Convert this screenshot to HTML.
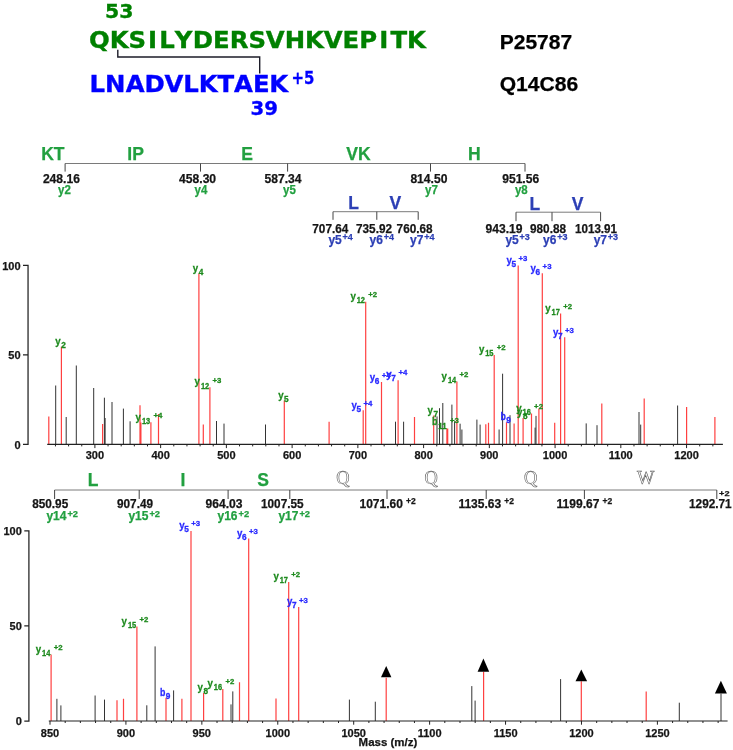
<!DOCTYPE html>
<html><head><meta charset="utf-8"><title>Cross-linked peptide spectrum</title>
<style>
html,body{margin:0;padding:0;background:#fff}
svg{display:block}
text{white-space:pre}
.LS{font-family:"Liberation Sans",sans-serif;font-weight:bold}
.DV{font-family:"DejaVu Sans","Liberation Sans",sans-serif;font-weight:bold}
.SF{font-family:"Liberation Serif",serif;font-weight:normal}
</style></head>
<body>
<svg width="733" height="750" viewBox="0 0 733 750">
<rect width="733" height="750" fill="#fff"/>
<text class="DV" x="105.0" y="18.3" font-size="19" fill="#008000" textLength="28.5" lengthAdjust="spacingAndGlyphs" stroke="#008000" stroke-width="0.3">53</text>
<text class="DV" transform="translate(89.0 0) scale(1.034 1)" x="10.0 29.2 46.6 61.4 75.4 91.6 110.1 128.0 145.2 162.8 180.2 199.1 218.1 236.2 253.3 270.0 285.1 299.6 316.7" y="48.0" font-size="23.6" fill="#008000" stroke="#008000" stroke-width="0.35" text-anchor="middle">QKSILYDERSVHKVEPITK</text>
<text class="DV" transform="translate(89.6 0) scale(1.034 1)" x="7.5 24.9 44.0 62.9 81.6 98.1 114.6 131.7 148.8 166.0 183.0" y="92.4" font-size="23.6" fill="#0000ff" stroke="#0000ff" stroke-width="0.35" text-anchor="middle">LNADVLKTAEK</text>
<text class="DV" x="291.5" y="84.0" font-size="17" fill="#0000ff" textLength="23.0" lengthAdjust="spacingAndGlyphs" stroke="#0000ff" stroke-width="0.3">+5</text>
<text class="DV" x="250.5" y="115.0" font-size="19" fill="#0000ff" textLength="27.5" lengthAdjust="spacingAndGlyphs" stroke="#0000ff" stroke-width="0.3">39</text>
<path d="M117.8 49.8V57H259.7V73.5" fill="none" stroke="#1c1c28" stroke-width="1.4"/>
<text class="LS" x="499.7" y="48.7" font-size="21" fill="#000" textLength="72.5" lengthAdjust="spacingAndGlyphs" stroke="#000" stroke-width="0.25">P25787</text>
<text class="LS" x="499.7" y="90.7" font-size="21" fill="#000" textLength="78.6" lengthAdjust="spacingAndGlyphs" stroke="#000" stroke-width="0.25">Q14C86</text>
<line x1="65.10" y1="163.50" x2="525.00" y2="163.50" stroke="#7a7a7a" stroke-width="1.0"/>
<line x1="65.10" y1="163.50" x2="65.10" y2="171.60" stroke="#444" stroke-width="1.0"/>
<line x1="200.50" y1="163.50" x2="200.50" y2="171.60" stroke="#444" stroke-width="1.0"/>
<line x1="287.60" y1="163.50" x2="287.60" y2="171.60" stroke="#444" stroke-width="1.0"/>
<line x1="430.50" y1="163.50" x2="430.50" y2="171.60" stroke="#444" stroke-width="1.0"/>
<line x1="525.00" y1="163.50" x2="525.00" y2="171.60" stroke="#444" stroke-width="1.0"/>
<text class="LS" x="52.9" y="160.3" font-size="18.7" fill="#22a040" text-anchor="middle" textLength="23.4" lengthAdjust="spacingAndGlyphs" stroke="#22a040" stroke-width="0.25">KT</text>
<text class="LS" x="135.6" y="160.3" font-size="18.7" fill="#22a040" text-anchor="middle" textLength="16.6" lengthAdjust="spacingAndGlyphs" stroke="#22a040" stroke-width="0.25">IP</text>
<text class="LS" x="247.2" y="160.3" font-size="18.7" fill="#22a040" text-anchor="middle" textLength="11.7" lengthAdjust="spacingAndGlyphs" stroke="#22a040" stroke-width="0.25">E</text>
<text class="LS" x="358.5" y="160.3" font-size="18.7" fill="#22a040" text-anchor="middle" textLength="24.4" lengthAdjust="spacingAndGlyphs" stroke="#22a040" stroke-width="0.25">VK</text>
<text class="LS" x="474.3" y="160.3" font-size="18.7" fill="#22a040" text-anchor="middle" textLength="12.7" lengthAdjust="spacingAndGlyphs" stroke="#22a040" stroke-width="0.25">H</text>
<text class="LS" x="61.4" y="183.0" font-size="12" fill="#151515" text-anchor="middle" textLength="37.0" lengthAdjust="spacingAndGlyphs" stroke="#151515" stroke-width="0.25">248.16</text>
<text class="LS" x="197.6" y="183.0" font-size="12" fill="#151515" text-anchor="middle" textLength="37.0" lengthAdjust="spacingAndGlyphs" stroke="#151515" stroke-width="0.25">458.30</text>
<text class="LS" x="283.0" y="183.0" font-size="12" fill="#151515" text-anchor="middle" textLength="37.0" lengthAdjust="spacingAndGlyphs" stroke="#151515" stroke-width="0.25">587.34</text>
<text class="LS" x="428.9" y="183.0" font-size="12" fill="#151515" text-anchor="middle" textLength="37.0" lengthAdjust="spacingAndGlyphs" stroke="#151515" stroke-width="0.25">814.50</text>
<text class="LS" x="520.7" y="183.0" font-size="12" fill="#151515" text-anchor="middle" textLength="37.0" lengthAdjust="spacingAndGlyphs" stroke="#151515" stroke-width="0.25">951.56</text>
<text class="LS" x="64.5" y="194.2" font-size="12.3" fill="#22a040" text-anchor="middle" textLength="12.8" lengthAdjust="spacingAndGlyphs" stroke="#22a040" stroke-width="0.25">y2</text>
<text class="LS" x="201.0" y="194.2" font-size="12.3" fill="#22a040" text-anchor="middle" textLength="12.8" lengthAdjust="spacingAndGlyphs" stroke="#22a040" stroke-width="0.25">y4</text>
<text class="LS" x="289.4" y="194.2" font-size="12.3" fill="#22a040" text-anchor="middle" textLength="12.8" lengthAdjust="spacingAndGlyphs" stroke="#22a040" stroke-width="0.25">y5</text>
<text class="LS" x="431.4" y="194.2" font-size="12.3" fill="#22a040" text-anchor="middle" textLength="12.8" lengthAdjust="spacingAndGlyphs" stroke="#22a040" stroke-width="0.25">y7</text>
<text class="LS" x="521.3" y="194.2" font-size="12.3" fill="#22a040" text-anchor="middle" textLength="12.8" lengthAdjust="spacingAndGlyphs" stroke="#22a040" stroke-width="0.25">y8</text>
<line x1="333.00" y1="211.70" x2="418.20" y2="211.70" stroke="#7a7a7a" stroke-width="1.0"/>
<line x1="333.00" y1="211.70" x2="333.00" y2="219.80" stroke="#444" stroke-width="1.0"/>
<line x1="376.80" y1="211.70" x2="376.80" y2="219.80" stroke="#444" stroke-width="1.0"/>
<line x1="418.20" y1="211.70" x2="418.20" y2="219.80" stroke="#444" stroke-width="1.0"/>
<text class="LS" x="353.5" y="209.4" font-size="18.7" fill="#2c3fb5" text-anchor="middle" textLength="10.7" lengthAdjust="spacingAndGlyphs" stroke="#2c3fb5" stroke-width="0.25">L</text>
<text class="LS" x="395.4" y="209.4" font-size="18.7" fill="#2c3fb5" text-anchor="middle" textLength="11.7" lengthAdjust="spacingAndGlyphs" stroke="#2c3fb5" stroke-width="0.25">V</text>
<text class="LS" x="330.3" y="232.5" font-size="12" fill="#151515" text-anchor="middle" textLength="36.0" lengthAdjust="spacingAndGlyphs" stroke="#151515" stroke-width="0.25">707.64</text>
<text class="LS" x="374.0" y="232.5" font-size="12" fill="#151515" text-anchor="middle" textLength="36.0" lengthAdjust="spacingAndGlyphs" stroke="#151515" stroke-width="0.25">735.92</text>
<text class="LS" x="414.6" y="232.5" font-size="12" fill="#151515" text-anchor="middle" textLength="36.0" lengthAdjust="spacingAndGlyphs" stroke="#151515" stroke-width="0.25">760.68</text>
<text class="LS" x="328.4" y="244.0" font-size="12" fill="#2c3fb5" stroke="#2c3fb5" stroke-width="0.25">y5<tspan font-size="9" dx="0.8" dy="-3.8">+4</tspan></text>
<text class="LS" x="369.6" y="244.0" font-size="12" fill="#2c3fb5" stroke="#2c3fb5" stroke-width="0.25">y6<tspan font-size="9" dx="0.8" dy="-3.8">+4</tspan></text>
<text class="LS" x="410.0" y="244.0" font-size="12" fill="#2c3fb5" stroke="#2c3fb5" stroke-width="0.25">y7<tspan font-size="9" dx="0.8" dy="-3.8">+4</tspan></text>
<line x1="516.00" y1="212.20" x2="600.60" y2="212.20" stroke="#7a7a7a" stroke-width="1.0"/>
<line x1="516.00" y1="212.20" x2="516.00" y2="221.20" stroke="#444" stroke-width="1.0"/>
<line x1="552.00" y1="212.20" x2="552.00" y2="221.20" stroke="#444" stroke-width="1.0"/>
<line x1="600.60" y1="212.20" x2="600.60" y2="221.20" stroke="#444" stroke-width="1.0"/>
<text class="LS" x="534.8" y="210.0" font-size="18.7" fill="#2c3fb5" text-anchor="middle" textLength="10.7" lengthAdjust="spacingAndGlyphs" stroke="#2c3fb5" stroke-width="0.25">L</text>
<text class="LS" x="577.5" y="210.0" font-size="18.7" fill="#2c3fb5" text-anchor="middle" textLength="11.7" lengthAdjust="spacingAndGlyphs" stroke="#2c3fb5" stroke-width="0.25">V</text>
<text class="LS" x="504.0" y="232.5" font-size="12" fill="#151515" text-anchor="middle" textLength="37.0" lengthAdjust="spacingAndGlyphs" stroke="#151515" stroke-width="0.25">943.19</text>
<text class="LS" x="548.0" y="232.5" font-size="12" fill="#151515" text-anchor="middle" textLength="36.0" lengthAdjust="spacingAndGlyphs" stroke="#151515" stroke-width="0.25">980.88</text>
<text class="LS" x="596.0" y="232.5" font-size="12" fill="#151515" text-anchor="middle" textLength="42.0" lengthAdjust="spacingAndGlyphs" stroke="#151515" stroke-width="0.25">1013.91</text>
<text class="LS" x="505.4" y="244.0" font-size="12" fill="#2c3fb5" stroke="#2c3fb5" stroke-width="0.25">y5<tspan font-size="9" dx="0.8" dy="-3.8">+3</tspan></text>
<text class="LS" x="543.0" y="244.0" font-size="12" fill="#2c3fb5" stroke="#2c3fb5" stroke-width="0.25">y6<tspan font-size="9" dx="0.8" dy="-3.8">+3</tspan></text>
<text class="LS" x="593.7" y="244.0" font-size="12" fill="#2c3fb5" stroke="#2c3fb5" stroke-width="0.25">y7<tspan font-size="9" dx="0.8" dy="-3.8">+3</tspan></text>
<path d="M55.70 444.4V385.5M66.20 444.4V417.0M76.30 444.4V365.5M93.70 444.4V388.0M104.40 444.4V397.7M105.10 444.4V418.0M112.00 444.4V402.0M123.40 444.4V408.6M130.10 444.4V421.3M216.50 444.4V421.0M224.00 444.4V423.6M265.50 444.4V424.5M395.50 444.4V421.7M403.60 444.4V421.7M437.00 444.4V416.4M439.50 444.4V408.2M442.80 444.4V403.0M451.90 444.4V404.6M454.60 444.4V421.3M460.10 444.4V423.7M461.90 444.4V429.5M476.90 444.4V419.6M480.10 444.4V424.6M499.10 444.4V429.5M502.60 444.4V373.7M510.00 444.4V415.2M535.10 444.4V427.6M536.00 444.4V415.9M586.20 444.4V423.4M597.00 444.4V425.2M639.00 444.4V412.0M640.70 444.4V424.6M677.60 444.4V405.5" stroke="#333333" stroke-width="1.0" fill="none"/>
<path d="M48.80 444.4V416.4M61.40 444.4V346.7M102.60 444.4V424.0M140.00 444.4V405.3M140.90 444.4V422.4M150.90 444.4V422.2M158.50 444.4V414.1M198.90 444.4V273.5M203.30 444.4V424.5M209.90 444.4V387.2M284.30 444.4V400.4M329.10 444.4V421.7M363.20 444.4V410.3M365.70 444.4V301.7M381.50 444.4V382.0M398.10 444.4V380.3M414.50 444.4V416.9M433.70 444.4V415.4M446.90 444.4V428.4M447.70 444.4V428.4M456.90 444.4V381.4M485.80 444.4V424.2M488.50 444.4V422.8M494.20 444.4V354.9M506.50 444.4V422.3M514.10 444.4V423.5M518.20 444.4V265.6M523.10 444.4V417.9M531.50 444.4V413.4M538.90 444.4V408.4M542.30 444.4V273.3M554.70 444.4V422.8M560.60 444.4V313.5M564.70 444.4V337.3M601.80 444.4V403.5M644.20 444.4V398.6M686.60 444.4V407.0M714.90 444.4V417.0" stroke="#ff4040" stroke-width="1.2" fill="none"/>
<path d="M23 265.3H28.05V444.4H23M23 354.8H28.05" fill="none" stroke="#222" stroke-width="1.25"/>
<line x1="47.20" y1="444.40" x2="722.90" y2="444.40" stroke="#222" stroke-width="1.1"/>
<path d="M55.46 444.4v2.0M68.60 444.4v2.0M81.75 444.4v2.0M94.90 444.4v3.7M108.05 444.4v2.0M121.20 444.4v2.0M134.34 444.4v2.0M147.49 444.4v2.0M160.64 444.4v3.7M173.79 444.4v2.0M186.94 444.4v2.0M200.08 444.4v2.0M213.23 444.4v2.0M226.38 444.4v3.7M239.53 444.4v2.0M252.68 444.4v2.0M265.82 444.4v2.0M278.97 444.4v2.0M292.12 444.4v3.7M305.27 444.4v2.0M318.42 444.4v2.0M331.56 444.4v2.0M344.71 444.4v2.0M357.86 444.4v3.7M371.01 444.4v2.0M384.16 444.4v2.0M397.30 444.4v2.0M410.45 444.4v2.0M423.60 444.4v3.7M436.75 444.4v2.0M449.90 444.4v2.0M463.04 444.4v2.0M476.19 444.4v2.0M489.34 444.4v3.7M502.49 444.4v2.0M515.64 444.4v2.0M528.78 444.4v2.0M541.93 444.4v2.0M555.08 444.4v3.7M568.23 444.4v2.0M581.38 444.4v2.0M594.52 444.4v2.0M607.67 444.4v2.0M620.82 444.4v3.7M633.97 444.4v2.0M647.12 444.4v2.0M660.26 444.4v2.0M673.41 444.4v2.0M686.56 444.4v3.7M699.71 444.4v2.0M712.86 444.4v2.0" stroke="#222" stroke-width="1" fill="none"/>
<text class="LS" x="94.9" y="459.0" font-size="11" fill="#151515" text-anchor="middle" stroke="#151515" stroke-width="0.25">300</text>
<text class="LS" x="160.6" y="459.0" font-size="11" fill="#151515" text-anchor="middle" stroke="#151515" stroke-width="0.25">400</text>
<text class="LS" x="226.4" y="459.0" font-size="11" fill="#151515" text-anchor="middle" stroke="#151515" stroke-width="0.25">500</text>
<text class="LS" x="292.1" y="459.0" font-size="11" fill="#151515" text-anchor="middle" stroke="#151515" stroke-width="0.25">600</text>
<text class="LS" x="357.9" y="459.0" font-size="11" fill="#151515" text-anchor="middle" stroke="#151515" stroke-width="0.25">700</text>
<text class="LS" x="423.6" y="459.0" font-size="11" fill="#151515" text-anchor="middle" stroke="#151515" stroke-width="0.25">800</text>
<text class="LS" x="489.3" y="459.0" font-size="11" fill="#151515" text-anchor="middle" stroke="#151515" stroke-width="0.25">900</text>
<text class="LS" x="555.1" y="459.0" font-size="11" fill="#151515" text-anchor="middle" stroke="#151515" stroke-width="0.25">1000</text>
<text class="LS" x="620.8" y="459.0" font-size="11" fill="#151515" text-anchor="middle" stroke="#151515" stroke-width="0.25">1100</text>
<text class="LS" x="686.6" y="459.0" font-size="11" fill="#151515" text-anchor="middle" stroke="#151515" stroke-width="0.25">1200</text>
<text class="LS" x="20.6" y="269.6" font-size="11" fill="#151515" text-anchor="end" stroke="#151515" stroke-width="0.25">100</text>
<text class="LS" x="20.6" y="359.1" font-size="11" fill="#151515" text-anchor="end" stroke="#151515" stroke-width="0.25">50</text>
<text class="LS" x="20.6" y="448.7" font-size="11" fill="#151515" text-anchor="end" stroke="#151515" stroke-width="0.25">0</text>
<text class="LS" x="55.3" y="344.9" font-size="11.5" fill="#1e8a1e" textLength="5.4" lengthAdjust="spacingAndGlyphs" stroke="#1e8a1e" stroke-width="0.3">y</text>
<text class="LS" x="61.2" y="348.0" font-size="8.3" fill="#1e8a1e" textLength="4.6" lengthAdjust="spacingAndGlyphs" stroke="#1e8a1e" stroke-width="0.3">2</text>
<text class="LS" x="192.8" y="271.7" font-size="11.5" fill="#1e8a1e" textLength="5.4" lengthAdjust="spacingAndGlyphs" stroke="#1e8a1e" stroke-width="0.3">y</text>
<text class="LS" x="198.7" y="274.8" font-size="8.3" fill="#1e8a1e" textLength="4.6" lengthAdjust="spacingAndGlyphs" stroke="#1e8a1e" stroke-width="0.3">4</text>
<text class="LS" x="194.6" y="385.4" font-size="11.5" fill="#1e8a1e" textLength="5.4" lengthAdjust="spacingAndGlyphs" stroke="#1e8a1e" stroke-width="0.3">y</text>
<text class="LS" x="200.9" y="388.5" font-size="8.3" fill="#1e8a1e" textLength="8.3" lengthAdjust="spacingAndGlyphs" stroke="#1e8a1e" stroke-width="0.3">12</text>
<text class="LS" x="212.5" y="382.6" font-size="8" fill="#1e8a1e" textLength="8.9" lengthAdjust="spacingAndGlyphs" stroke="#1e8a1e" stroke-width="0.3">+3</text>
<text class="LS" x="135.6" y="420.8" font-size="11.5" fill="#1e8a1e" textLength="5.4" lengthAdjust="spacingAndGlyphs" stroke="#1e8a1e" stroke-width="0.3">y</text>
<text class="LS" x="141.9" y="423.9" font-size="8.3" fill="#1e8a1e" textLength="8.3" lengthAdjust="spacingAndGlyphs" stroke="#1e8a1e" stroke-width="0.3">13</text>
<text class="LS" x="153.5" y="418.0" font-size="8" fill="#1e8a1e" textLength="8.9" lengthAdjust="spacingAndGlyphs" stroke="#1e8a1e" stroke-width="0.3">+4</text>
<text class="LS" x="278.2" y="398.6" font-size="11.5" fill="#1e8a1e" textLength="5.4" lengthAdjust="spacingAndGlyphs" stroke="#1e8a1e" stroke-width="0.3">y</text>
<text class="LS" x="284.1" y="401.7" font-size="8.3" fill="#1e8a1e" textLength="4.6" lengthAdjust="spacingAndGlyphs" stroke="#1e8a1e" stroke-width="0.3">5</text>
<text class="LS" x="350.4" y="299.9" font-size="11.5" fill="#1e8a1e" textLength="5.4" lengthAdjust="spacingAndGlyphs" stroke="#1e8a1e" stroke-width="0.3">y</text>
<text class="LS" x="356.7" y="303.0" font-size="8.3" fill="#1e8a1e" textLength="8.3" lengthAdjust="spacingAndGlyphs" stroke="#1e8a1e" stroke-width="0.3">12</text>
<text class="LS" x="368.3" y="297.1" font-size="8" fill="#1e8a1e" textLength="8.9" lengthAdjust="spacingAndGlyphs" stroke="#1e8a1e" stroke-width="0.3">+2</text>
<text class="LS" x="351.4" y="408.5" font-size="11.5" fill="#2a2aff" textLength="5.4" lengthAdjust="spacingAndGlyphs" stroke="#2a2aff" stroke-width="0.3">y</text>
<text class="LS" x="356.4" y="411.6" font-size="8.3" fill="#2a2aff" textLength="4.6" lengthAdjust="spacingAndGlyphs" stroke="#2a2aff" stroke-width="0.3">5</text>
<text class="LS" x="363.5" y="405.7" font-size="8" fill="#2a2aff" textLength="8.9" lengthAdjust="spacingAndGlyphs" stroke="#2a2aff" stroke-width="0.3">+4</text>
<text class="LS" x="369.7" y="380.7" font-size="11.5" fill="#2a2aff" textLength="5.4" lengthAdjust="spacingAndGlyphs" stroke="#2a2aff" stroke-width="0.3">y</text>
<text class="LS" x="374.7" y="383.8" font-size="8.3" fill="#2a2aff" textLength="4.6" lengthAdjust="spacingAndGlyphs" stroke="#2a2aff" stroke-width="0.3">6</text>
<text class="LS" x="381.8" y="377.9" font-size="8" fill="#2a2aff" textLength="8.9" lengthAdjust="spacingAndGlyphs" stroke="#2a2aff" stroke-width="0.3">+4</text>
<text class="LS" x="386.3" y="377.6" font-size="11.5" fill="#2a2aff" textLength="5.4" lengthAdjust="spacingAndGlyphs" stroke="#2a2aff" stroke-width="0.3">y</text>
<text class="LS" x="391.3" y="380.7" font-size="8.3" fill="#2a2aff" textLength="4.6" lengthAdjust="spacingAndGlyphs" stroke="#2a2aff" stroke-width="0.3">7</text>
<text class="LS" x="398.4" y="374.8" font-size="8" fill="#2a2aff" textLength="8.9" lengthAdjust="spacingAndGlyphs" stroke="#2a2aff" stroke-width="0.3">+4</text>
<text class="LS" x="427.6" y="413.6" font-size="11.5" fill="#1e8a1e" textLength="5.4" lengthAdjust="spacingAndGlyphs" stroke="#1e8a1e" stroke-width="0.3">y</text>
<text class="LS" x="433.5" y="416.7" font-size="8.3" fill="#1e8a1e" textLength="4.6" lengthAdjust="spacingAndGlyphs" stroke="#1e8a1e" stroke-width="0.3">7</text>
<text class="LS" x="432.0" y="425.4" font-size="11.5" fill="#1e8a1e" textLength="5.4" lengthAdjust="spacingAndGlyphs" stroke="#1e8a1e" stroke-width="0.3">b</text>
<text class="LS" x="438.3" y="428.5" font-size="8.3" fill="#1e8a1e" textLength="8.3" lengthAdjust="spacingAndGlyphs" stroke="#1e8a1e" stroke-width="0.3">11</text>
<text class="LS" x="449.9" y="422.6" font-size="8" fill="#1e8a1e" textLength="8.9" lengthAdjust="spacingAndGlyphs" stroke="#1e8a1e" stroke-width="0.3">+3</text>
<text class="LS" x="441.6" y="379.6" font-size="11.5" fill="#1e8a1e" textLength="5.4" lengthAdjust="spacingAndGlyphs" stroke="#1e8a1e" stroke-width="0.3">y</text>
<text class="LS" x="447.9" y="382.7" font-size="8.3" fill="#1e8a1e" textLength="8.3" lengthAdjust="spacingAndGlyphs" stroke="#1e8a1e" stroke-width="0.3">14</text>
<text class="LS" x="459.5" y="376.8" font-size="8" fill="#1e8a1e" textLength="8.9" lengthAdjust="spacingAndGlyphs" stroke="#1e8a1e" stroke-width="0.3">+2</text>
<text class="LS" x="478.9" y="353.1" font-size="11.5" fill="#1e8a1e" textLength="5.4" lengthAdjust="spacingAndGlyphs" stroke="#1e8a1e" stroke-width="0.3">y</text>
<text class="LS" x="485.2" y="356.2" font-size="8.3" fill="#1e8a1e" textLength="8.3" lengthAdjust="spacingAndGlyphs" stroke="#1e8a1e" stroke-width="0.3">15</text>
<text class="LS" x="496.8" y="350.3" font-size="8" fill="#1e8a1e" textLength="8.9" lengthAdjust="spacingAndGlyphs" stroke="#1e8a1e" stroke-width="0.3">+2</text>
<text class="LS" x="500.4" y="420.2" font-size="11.5" fill="#2a2aff" textLength="5.4" lengthAdjust="spacingAndGlyphs" stroke="#2a2aff" stroke-width="0.3">b</text>
<text class="LS" x="506.3" y="423.3" font-size="8.3" fill="#2a2aff" textLength="4.6" lengthAdjust="spacingAndGlyphs" stroke="#2a2aff" stroke-width="0.3">9</text>
<text class="LS" x="516.2" y="412.0" font-size="11.5" fill="#1e8a1e" textLength="5.4" lengthAdjust="spacingAndGlyphs" stroke="#1e8a1e" stroke-width="0.3">y</text>
<text class="LS" x="522.5" y="415.1" font-size="8.3" fill="#1e8a1e" textLength="8.3" lengthAdjust="spacingAndGlyphs" stroke="#1e8a1e" stroke-width="0.3">16</text>
<text class="LS" x="534.1" y="409.2" font-size="8" fill="#1e8a1e" textLength="8.9" lengthAdjust="spacingAndGlyphs" stroke="#1e8a1e" stroke-width="0.3">+2</text>
<text class="LS" x="517.0" y="416.1" font-size="11.5" fill="#1e8a1e" textLength="5.4" lengthAdjust="spacingAndGlyphs" stroke="#1e8a1e" stroke-width="0.3">y</text>
<text class="LS" x="522.9" y="419.2" font-size="8.3" fill="#1e8a1e" textLength="4.6" lengthAdjust="spacingAndGlyphs" stroke="#1e8a1e" stroke-width="0.3">8</text>
<text class="LS" x="506.4" y="263.8" font-size="11.5" fill="#2a2aff" textLength="5.4" lengthAdjust="spacingAndGlyphs" stroke="#2a2aff" stroke-width="0.3">y</text>
<text class="LS" x="511.4" y="266.9" font-size="8.3" fill="#2a2aff" textLength="4.6" lengthAdjust="spacingAndGlyphs" stroke="#2a2aff" stroke-width="0.3">5</text>
<text class="LS" x="518.5" y="261.0" font-size="8" fill="#2a2aff" textLength="8.9" lengthAdjust="spacingAndGlyphs" stroke="#2a2aff" stroke-width="0.3">+3</text>
<text class="LS" x="530.5" y="271.5" font-size="11.5" fill="#2a2aff" textLength="5.4" lengthAdjust="spacingAndGlyphs" stroke="#2a2aff" stroke-width="0.3">y</text>
<text class="LS" x="535.5" y="274.6" font-size="8.3" fill="#2a2aff" textLength="4.6" lengthAdjust="spacingAndGlyphs" stroke="#2a2aff" stroke-width="0.3">6</text>
<text class="LS" x="542.6" y="268.7" font-size="8" fill="#2a2aff" textLength="8.9" lengthAdjust="spacingAndGlyphs" stroke="#2a2aff" stroke-width="0.3">+3</text>
<text class="LS" x="545.3" y="311.7" font-size="11.5" fill="#1e8a1e" textLength="5.4" lengthAdjust="spacingAndGlyphs" stroke="#1e8a1e" stroke-width="0.3">y</text>
<text class="LS" x="551.6" y="314.8" font-size="8.3" fill="#1e8a1e" textLength="8.3" lengthAdjust="spacingAndGlyphs" stroke="#1e8a1e" stroke-width="0.3">17</text>
<text class="LS" x="563.2" y="308.9" font-size="8" fill="#1e8a1e" textLength="8.9" lengthAdjust="spacingAndGlyphs" stroke="#1e8a1e" stroke-width="0.3">+2</text>
<text class="LS" x="552.9" y="335.5" font-size="11.5" fill="#2a2aff" textLength="5.4" lengthAdjust="spacingAndGlyphs" stroke="#2a2aff" stroke-width="0.3">y</text>
<text class="LS" x="557.9" y="338.6" font-size="8.3" fill="#2a2aff" textLength="4.6" lengthAdjust="spacingAndGlyphs" stroke="#2a2aff" stroke-width="0.3">7</text>
<text class="LS" x="565.0" y="332.7" font-size="8" fill="#2a2aff" textLength="8.9" lengthAdjust="spacingAndGlyphs" stroke="#2a2aff" stroke-width="0.3">+3</text>
<line x1="54.60" y1="490.00" x2="716.80" y2="490.00" stroke="#7a7a7a" stroke-width="1.0"/>
<line x1="54.60" y1="490.00" x2="54.60" y2="499.00" stroke="#444" stroke-width="1.0"/>
<line x1="139.20" y1="490.00" x2="139.20" y2="499.00" stroke="#444" stroke-width="1.0"/>
<line x1="228.10" y1="490.00" x2="228.10" y2="499.00" stroke="#444" stroke-width="1.0"/>
<line x1="289.80" y1="490.00" x2="289.80" y2="499.00" stroke="#444" stroke-width="1.0"/>
<line x1="387.00" y1="490.00" x2="387.00" y2="499.00" stroke="#444" stroke-width="1.0"/>
<line x1="486.20" y1="490.00" x2="486.20" y2="499.00" stroke="#444" stroke-width="1.0"/>
<line x1="584.40" y1="490.00" x2="584.40" y2="499.00" stroke="#444" stroke-width="1.0"/>
<line x1="716.80" y1="490.00" x2="716.80" y2="499.00" stroke="#444" stroke-width="1.0"/>
<text class="LS" x="93.0" y="486.4" font-size="18.7" fill="#22a040" text-anchor="middle" textLength="10.7" lengthAdjust="spacingAndGlyphs" stroke="#22a040" stroke-width="0.25">L</text>
<text class="LS" x="183.0" y="486.4" font-size="18.7" fill="#22a040" text-anchor="middle" textLength="4.9" lengthAdjust="spacingAndGlyphs" stroke="#22a040" stroke-width="0.25">I</text>
<text class="LS" x="263.0" y="486.4" font-size="18.7" fill="#22a040" text-anchor="middle" textLength="11.7" lengthAdjust="spacingAndGlyphs" stroke="#22a040" stroke-width="0.25">S</text>
<text class="SF" x="343.0" y="483.5" font-size="18.4" fill="#fff" text-anchor="middle" stroke="#5c5c5c" stroke-width="0.6">Q</text>
<text class="SF" x="431.2" y="483.5" font-size="18.4" fill="#fff" text-anchor="middle" stroke="#5c5c5c" stroke-width="0.6">Q</text>
<text class="SF" x="530.6" y="483.5" font-size="18.4" fill="#fff" text-anchor="middle" stroke="#5c5c5c" stroke-width="0.6">Q</text>
<text class="SF" x="645.7" y="483.5" font-size="18.4" fill="#fff" text-anchor="middle" stroke="#5c5c5c" stroke-width="0.6">W</text>
<text class="LS" x="50.2" y="507.6" font-size="12" fill="#151515" text-anchor="middle" textLength="36.0" lengthAdjust="spacingAndGlyphs" stroke="#151515" stroke-width="0.25">850.95</text>
<text class="LS" x="135.0" y="507.6" font-size="12" fill="#151515" text-anchor="middle" textLength="36.0" lengthAdjust="spacingAndGlyphs" stroke="#151515" stroke-width="0.25">907.49</text>
<text class="LS" x="224.0" y="507.6" font-size="12" fill="#151515" text-anchor="middle" textLength="37.0" lengthAdjust="spacingAndGlyphs" stroke="#151515" stroke-width="0.25">964.03</text>
<text class="LS" x="282.3" y="507.6" font-size="12" fill="#151515" text-anchor="middle" textLength="42.6" lengthAdjust="spacingAndGlyphs" stroke="#151515" stroke-width="0.25">1007.55</text>
<text class="LS" x="359.5" y="507.6" font-size="12" fill="#151515" stroke="#151515" stroke-width="0.25">1071.60<tspan font-size="8.5" dx="3.2" dy="-3.4">+2</tspan></text>
<text class="LS" x="458.4" y="507.6" font-size="12" fill="#151515" stroke="#151515" stroke-width="0.25">1135.63<tspan font-size="8.5" dx="3.2" dy="-3.4">+2</tspan></text>
<text class="LS" x="556.6" y="507.6" font-size="12" fill="#151515" stroke="#151515" stroke-width="0.25">1199.67<tspan font-size="8.5" dx="3.2" dy="-3.4">+2</tspan></text>
<text class="LS" x="731.7" y="507.6" font-size="12" fill="#151515" text-anchor="end" textLength="42.7" lengthAdjust="spacingAndGlyphs" stroke="#151515" stroke-width="0.25">1292.71</text>
<text class="LS" x="719.0" y="496.2" font-size="8" fill="#151515" textLength="10.5" lengthAdjust="spacingAndGlyphs" stroke="#151515" stroke-width="0.25">+2</text>
<text class="LS" x="46.4" y="520.3" font-size="12" fill="#22a040" stroke="#22a040" stroke-width="0.25">y14<tspan font-size="9.3" dx="1" dy="-3.8">+2</tspan></text>
<text class="LS" x="128.4" y="520.3" font-size="12" fill="#22a040" stroke="#22a040" stroke-width="0.25">y15<tspan font-size="9.3" dx="1" dy="-3.8">+2</tspan></text>
<text class="LS" x="217.5" y="520.3" font-size="12" fill="#22a040" stroke="#22a040" stroke-width="0.25">y16<tspan font-size="9.3" dx="1" dy="-3.8">+2</tspan></text>
<text class="LS" x="278.4" y="520.3" font-size="12" fill="#22a040" stroke="#22a040" stroke-width="0.25">y17<tspan font-size="9.3" dx="1" dy="-3.8">+2</tspan></text>
<path d="M56.90 721.0V698.8M60.90 721.0V705.4M95.10 721.0V695.5M104.50 721.0V699.6M146.80 721.0V705.3M155.10 721.0V646.4M173.60 721.0V690.4M231.00 721.0V704.4M232.80 721.0V691.4M349.40 721.0V699.6M375.30 721.0V701.7M471.80 721.0V686.1M475.10 721.0V700.6M560.60 721.0V679.1M679.30 721.0V702.7M721.00 721.0V693.6" stroke="#333333" stroke-width="1.0" fill="none"/>
<path d="M51.10 721.0V654.5M117.00 721.0V700.2M123.50 721.0V698.7M136.90 721.0V626.4M166.00 721.0V697.8M181.90 721.0V698.7M191.00 721.0V531.0M203.60 721.0V693.0M222.80 721.0V689.0M239.50 721.0V682.2M248.70 721.0V538.5M276.00 721.0V698.6M288.70 721.0V582.0M298.70 721.0V607.1M386.20 721.0V677.8M483.60 721.0V671.7M581.30 721.0V681.2M646.20 721.0V691.5" stroke="#ff4040" stroke-width="1.2" fill="none"/>
<path d="M24.3 530.8H28.9V721H24.3M24.3 625.9H28.9" fill="none" stroke="#222" stroke-width="1.25"/>
<line x1="48.80" y1="721.00" x2="727.60" y2="721.00" stroke="#222" stroke-width="1.1"/>
<path d="M50.00 721.0v3.7M65.19 721.0v2.0M80.37 721.0v2.0M95.56 721.0v2.0M110.74 721.0v2.0M125.92 721.0v3.7M141.11 721.0v2.0M156.30 721.0v2.0M171.48 721.0v2.0M186.66 721.0v2.0M201.85 721.0v3.7M217.03 721.0v2.0M232.22 721.0v2.0M247.41 721.0v2.0M262.59 721.0v2.0M277.77 721.0v3.7M292.96 721.0v2.0M308.14 721.0v2.0M323.33 721.0v2.0M338.51 721.0v2.0M353.70 721.0v3.7M368.88 721.0v2.0M384.07 721.0v2.0M399.25 721.0v2.0M414.44 721.0v2.0M429.62 721.0v3.7M444.81 721.0v2.0M460.00 721.0v2.0M475.18 721.0v2.0M490.37 721.0v2.0M505.55 721.0v3.7M520.74 721.0v2.0M535.92 721.0v2.0M551.11 721.0v2.0M566.29 721.0v2.0M581.48 721.0v3.7M596.66 721.0v2.0M611.85 721.0v2.0M627.03 721.0v2.0M642.22 721.0v2.0M657.40 721.0v3.7M672.59 721.0v2.0M687.77 721.0v2.0M702.95 721.0v2.0M718.14 721.0v2.0" stroke="#222" stroke-width="1" fill="none"/>
<text class="LS" x="50.0" y="736.8" font-size="11" fill="#151515" text-anchor="middle" stroke="#151515" stroke-width="0.25">850</text>
<text class="LS" x="125.9" y="736.8" font-size="11" fill="#151515" text-anchor="middle" stroke="#151515" stroke-width="0.25">900</text>
<text class="LS" x="201.8" y="736.8" font-size="11" fill="#151515" text-anchor="middle" stroke="#151515" stroke-width="0.25">950</text>
<text class="LS" x="277.8" y="736.8" font-size="11" fill="#151515" text-anchor="middle" stroke="#151515" stroke-width="0.25">1000</text>
<text class="LS" x="353.7" y="736.8" font-size="11" fill="#151515" text-anchor="middle" stroke="#151515" stroke-width="0.25">1050</text>
<text class="LS" x="429.6" y="736.8" font-size="11" fill="#151515" text-anchor="middle" stroke="#151515" stroke-width="0.25">1100</text>
<text class="LS" x="505.6" y="736.8" font-size="11" fill="#151515" text-anchor="middle" stroke="#151515" stroke-width="0.25">1150</text>
<text class="LS" x="581.5" y="736.8" font-size="11" fill="#151515" text-anchor="middle" stroke="#151515" stroke-width="0.25">1200</text>
<text class="LS" x="657.4" y="736.8" font-size="11" fill="#151515" text-anchor="middle" stroke="#151515" stroke-width="0.25">1250</text>
<text class="LS" x="21.8" y="535.0" font-size="11" fill="#151515" text-anchor="end" stroke="#151515" stroke-width="0.25">100</text>
<text class="LS" x="21.8" y="630.1" font-size="11" fill="#151515" text-anchor="end" stroke="#151515" stroke-width="0.25">50</text>
<text class="LS" x="21.8" y="725.2" font-size="11" fill="#151515" text-anchor="end" stroke="#151515" stroke-width="0.25">0</text>
<text class="LS" x="358.6" y="746.2" font-size="11.5" fill="#151515" textLength="58.7" lengthAdjust="spacingAndGlyphs" stroke="#151515" stroke-width="0.25">Mass (m/z)</text>
<path d="M386.2 665.9L391.4 677.2H381.0Z" fill="#000"/>
<path d="M483.4 658.4L489.2 671.7H477.6Z" fill="#000"/>
<path d="M581.3 669.6L587.1 681.2H575.5Z" fill="#000"/>
<path d="M720.9 680.8L726.9 693.6H714.9Z" fill="#000"/>
<text class="LS" x="35.8" y="652.7" font-size="11.5" fill="#1e8a1e" textLength="5.4" lengthAdjust="spacingAndGlyphs" stroke="#1e8a1e" stroke-width="0.3">y</text>
<text class="LS" x="42.1" y="655.8" font-size="8.3" fill="#1e8a1e" textLength="8.3" lengthAdjust="spacingAndGlyphs" stroke="#1e8a1e" stroke-width="0.3">14</text>
<text class="LS" x="53.7" y="649.9" font-size="8" fill="#1e8a1e" textLength="8.9" lengthAdjust="spacingAndGlyphs" stroke="#1e8a1e" stroke-width="0.3">+2</text>
<text class="LS" x="121.6" y="624.6" font-size="11.5" fill="#1e8a1e" textLength="5.4" lengthAdjust="spacingAndGlyphs" stroke="#1e8a1e" stroke-width="0.3">y</text>
<text class="LS" x="127.9" y="627.7" font-size="8.3" fill="#1e8a1e" textLength="8.3" lengthAdjust="spacingAndGlyphs" stroke="#1e8a1e" stroke-width="0.3">15</text>
<text class="LS" x="139.5" y="621.8" font-size="8" fill="#1e8a1e" textLength="8.9" lengthAdjust="spacingAndGlyphs" stroke="#1e8a1e" stroke-width="0.3">+2</text>
<text class="LS" x="159.9" y="695.5" font-size="11.5" fill="#2a2aff" textLength="5.4" lengthAdjust="spacingAndGlyphs" stroke="#2a2aff" stroke-width="0.3">b</text>
<text class="LS" x="165.8" y="698.6" font-size="8.3" fill="#2a2aff" textLength="4.6" lengthAdjust="spacingAndGlyphs" stroke="#2a2aff" stroke-width="0.3">9</text>
<text class="LS" x="179.2" y="529.2" font-size="11.5" fill="#2a2aff" textLength="5.4" lengthAdjust="spacingAndGlyphs" stroke="#2a2aff" stroke-width="0.3">y</text>
<text class="LS" x="184.2" y="532.3" font-size="8.3" fill="#2a2aff" textLength="4.6" lengthAdjust="spacingAndGlyphs" stroke="#2a2aff" stroke-width="0.3">5</text>
<text class="LS" x="191.3" y="526.4" font-size="8" fill="#2a2aff" textLength="8.9" lengthAdjust="spacingAndGlyphs" stroke="#2a2aff" stroke-width="0.3">+3</text>
<text class="LS" x="197.5" y="691.2" font-size="11.5" fill="#1e8a1e" textLength="5.4" lengthAdjust="spacingAndGlyphs" stroke="#1e8a1e" stroke-width="0.3">y</text>
<text class="LS" x="203.4" y="694.3" font-size="8.3" fill="#1e8a1e" textLength="4.6" lengthAdjust="spacingAndGlyphs" stroke="#1e8a1e" stroke-width="0.3">8</text>
<text class="LS" x="207.5" y="687.2" font-size="11.5" fill="#1e8a1e" textLength="5.4" lengthAdjust="spacingAndGlyphs" stroke="#1e8a1e" stroke-width="0.3">y</text>
<text class="LS" x="213.8" y="690.3" font-size="8.3" fill="#1e8a1e" textLength="8.3" lengthAdjust="spacingAndGlyphs" stroke="#1e8a1e" stroke-width="0.3">16</text>
<text class="LS" x="225.4" y="684.4" font-size="8" fill="#1e8a1e" textLength="8.9" lengthAdjust="spacingAndGlyphs" stroke="#1e8a1e" stroke-width="0.3">+2</text>
<text class="LS" x="236.9" y="536.7" font-size="11.5" fill="#2a2aff" textLength="5.4" lengthAdjust="spacingAndGlyphs" stroke="#2a2aff" stroke-width="0.3">y</text>
<text class="LS" x="241.9" y="539.8" font-size="8.3" fill="#2a2aff" textLength="4.6" lengthAdjust="spacingAndGlyphs" stroke="#2a2aff" stroke-width="0.3">6</text>
<text class="LS" x="249.0" y="533.9" font-size="8" fill="#2a2aff" textLength="8.9" lengthAdjust="spacingAndGlyphs" stroke="#2a2aff" stroke-width="0.3">+3</text>
<text class="LS" x="273.4" y="580.2" font-size="11.5" fill="#1e8a1e" textLength="5.4" lengthAdjust="spacingAndGlyphs" stroke="#1e8a1e" stroke-width="0.3">y</text>
<text class="LS" x="279.7" y="583.3" font-size="8.3" fill="#1e8a1e" textLength="8.3" lengthAdjust="spacingAndGlyphs" stroke="#1e8a1e" stroke-width="0.3">17</text>
<text class="LS" x="291.3" y="577.4" font-size="8" fill="#1e8a1e" textLength="8.9" lengthAdjust="spacingAndGlyphs" stroke="#1e8a1e" stroke-width="0.3">+2</text>
<text class="LS" x="286.9" y="605.3" font-size="11.5" fill="#2a2aff" textLength="5.4" lengthAdjust="spacingAndGlyphs" stroke="#2a2aff" stroke-width="0.3">y</text>
<text class="LS" x="291.9" y="608.4" font-size="8.3" fill="#2a2aff" textLength="4.6" lengthAdjust="spacingAndGlyphs" stroke="#2a2aff" stroke-width="0.3">7</text>
<text class="LS" x="299.0" y="602.5" font-size="8" fill="#2a2aff" textLength="8.9" lengthAdjust="spacingAndGlyphs" stroke="#2a2aff" stroke-width="0.3">+3</text>
</svg>
</body></html>
